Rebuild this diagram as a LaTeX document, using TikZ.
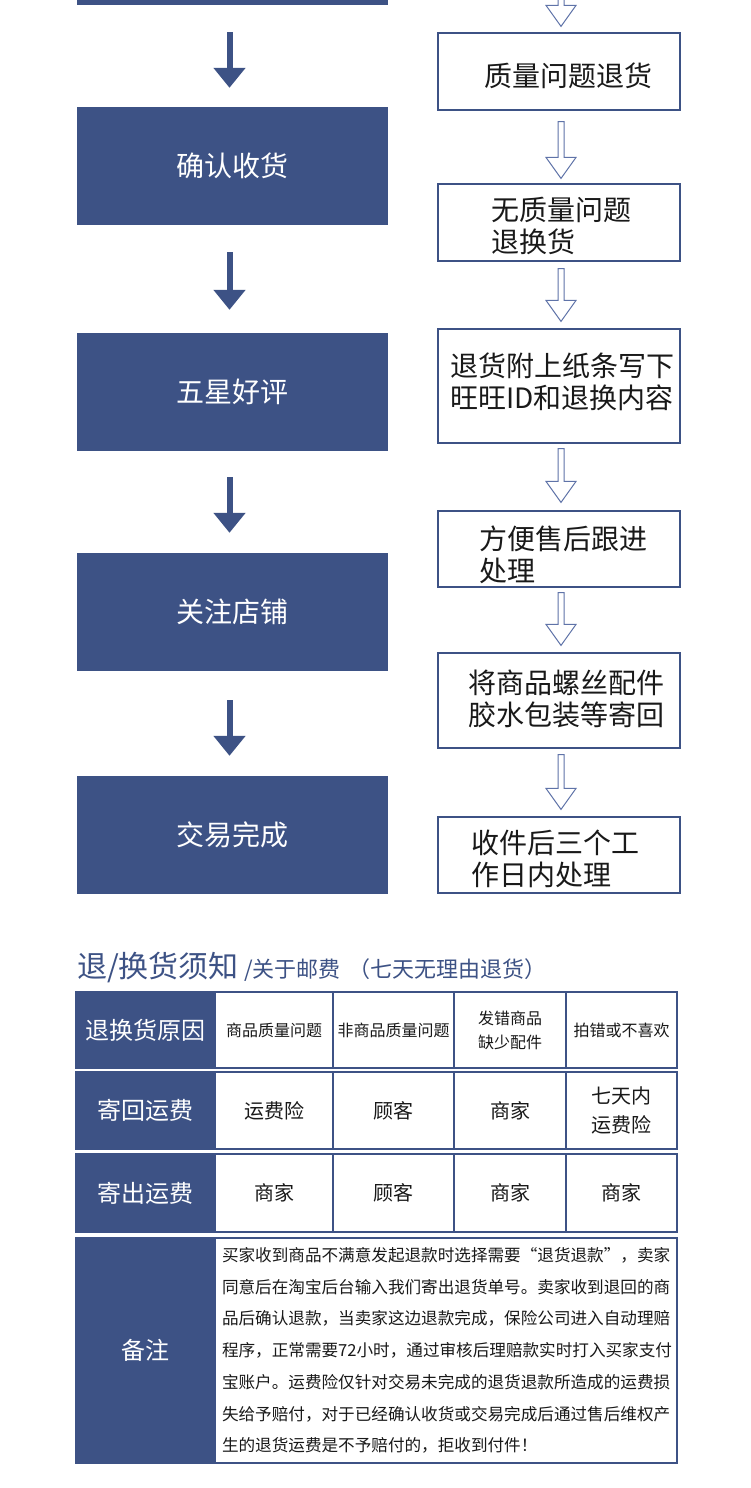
\documentclass[tikz,border=0pt]{standalone}
\usepackage{fontspec}
\setmainfont{Noto Sans CJK SC}
\usetikzlibrary{arrows.meta,calc}
\definecolor{navy}{RGB}{61,82,133}
\definecolor{arrowline}{RGB}{95,115,168}
\definecolor{ink}{RGB}{25,25,25}
\newcommand\hollowarr[2]{%
  \draw[harrow] let \p1=#1, \p2=#2 in
    (\x1-3pt,\y1) -- (\x1+3pt,\y1) -- (\x1+3pt,\y2+21pt) -- (\x1+15pt,\y2+21pt)
    -- (\x2,\y2) -- (\x1-15pt,\y2+21pt) -- (\x1-3pt,\y2+21pt) -- cycle;}
\begin{document}
\begin{tikzpicture}[x=1pt,y=-1pt,
  lbox/.style={fill=navy,text=white,minimum width=311pt,minimum height=118pt,inner sep=0pt,font=\fontsize{28pt}{32pt}\selectfont},
  rbox/.style={draw=navy,line width=1.2pt,fill=white,minimum width=242pt,inner sep=0pt},
  rtext/.style={anchor=west,align=left,inner sep=0pt,font=\fontsize{28pt}{32pt}\selectfont,text=ink},
  larrow/.style={draw=navy,line width=6pt,-{Triangle[width=31pt,length=20pt]}},
  harrow/.style={draw=arrowline,line width=1pt,fill=white},
  thead/.style={fill=navy,draw=navy,line width=1.2pt,text=white,inner sep=0pt,font=\fontsize{24pt}{28pt}\selectfont},
  tcell/.style={fill=white,draw=navy,line width=1.2pt,text=ink,inner sep=0pt,align=center},
  small/.style={font=\fontsize{16pt}{24pt}\selectfont},
  mid/.style={font=\fontsize{20pt}{29pt}\selectfont}
]
\useasboundingbox (0,0) rectangle (751,1488);
\clip (0,0) rectangle (751,1488);
\fill[white] (0,0) rectangle (751,1488);

% left column
\node[lbox] (l0) at (232.5,-54) {};
\node[lbox] (l1) at (232.5,166) {确认收货};
\node[lbox] (l2) at (232.5,392) {五星好评};
\node[lbox] (l3) at (232.5,612) {关注店铺};
\node[lbox] (l4) at (232.5,835) {交易完成};
\draw[larrow] ([xshift=-3pt,yshift=-27pt]l0.south) -- ([xshift=-3pt,yshift=19pt]l1.north);
\draw[larrow] ([xshift=-3pt,yshift=-27pt]l1.south) -- ([xshift=-3pt,yshift=23pt]l2.north);
\draw[larrow] ([xshift=-3pt,yshift=-26pt]l2.south) -- ([xshift=-3pt,yshift=20pt]l3.north);
\draw[larrow] ([xshift=-3pt,yshift=-29pt]l3.south) -- ([xshift=-3pt,yshift=20pt]l4.north);

% right column
\coordinate (r0) at (559,-20);
\node[rbox,minimum height=77pt] (r1) at (559,71.5) {};
\node[rbox,minimum height=77pt] (r2) at (559,222.5) {};
\node[rbox,minimum height=114pt] (r3) at (559,386) {};
\node[rbox,minimum height=76pt] (r4) at (559,549) {};
\node[rbox,minimum height=95pt] (r5) at (559,700.5) {};
\node[rbox,minimum height=76pt] (r6) at (559,855) {};
\node[rtext] (t1) at (484,76) {质量问题退货};
\node[rtext] (t2) at (491,225.5) {无质量问题\\退换货};
\node[rtext] (t3) at (450,382) {退货附上纸条写下\\旺旺ID和退换内容};
\node[rtext] (t4) at (479,554.5) {方便售后跟进\\处理};
\node[rtext] (t5) at (468,699) {将商品螺丝配件\\胶水包装等寄回};
\node[rtext] (t6) at (471,859) {收件后三个工\\作日内处理};
\hollowarr{([xshift=2pt]r0)}{([xshift=2pt,yshift=6pt]r1.north)}
\hollowarr{([xshift=2pt,yshift=-11pt]r1.south)}{([xshift=2pt,yshift=5pt]r2.north)}
\hollowarr{([xshift=2pt,yshift=-7pt]r2.south)}{([xshift=2pt,yshift=7pt]r3.north)}
\hollowarr{([xshift=2pt,yshift=-5pt]r3.south)}{([xshift=2pt,yshift=8pt]r4.north)}
\hollowarr{([xshift=2pt,yshift=-5pt]r4.south)}{([xshift=2pt,yshift=7pt]r5.north)}
\hollowarr{([xshift=2pt,yshift=-6pt]r5.south)}{([xshift=2pt,yshift=7pt]r6.north)}

% heading
\node[anchor=base west,inner sep=0pt,text=navy,font=\fontsize{30pt}{34pt}\selectfont] (hd) at (77,977) {退/换货须知};
\node[anchor=base west,inner sep=0pt,text=navy,font=\fontsize{22pt}{26pt}\selectfont] (hs) at ([xshift=5pt]hd.base east) {/关于邮费\hspace{8pt}（七天无理由退货）};

% table row 1
\node[thead,minimum width=139pt,minimum height=76pt] (h1) at (145.5,1030) {退换货原因};
\node[tcell,small,minimum width=118pt,minimum height=76pt] (a1) at (274,1030) {商品质量问题};
\node[tcell,small,minimum width=121pt,minimum height=76pt] (b1) at (393.5,1030) {非商品质量问题};
\node[tcell,small,minimum width=112pt,minimum height=76pt] (c1) at (510,1030) {发错商品\\缺少配件};
\node[tcell,small,minimum width=111pt,minimum height=76pt] (d1) at (621.5,1030) {拍错或不喜欢};
% row 2
\node[thead,minimum width=139pt,minimum height=77pt] (h2) at (145.5,1110.5) {寄回运费};
\node[tcell,mid,minimum width=118pt,minimum height=77pt] (a2) at (274,1110.5) {运费险};
\node[tcell,mid,minimum width=121pt,minimum height=77pt] (b2) at (393.5,1110.5) {顾客};
\node[tcell,mid,minimum width=112pt,minimum height=77pt] (c2) at (510,1110.5) {商家};
\node[tcell,mid,minimum width=111pt,minimum height=77pt] (d2) at (621.5,1110.5) {七天内\\运费险};
% row 3
\node[thead,minimum width=139pt,minimum height=78pt] (h3) at (145.5,1193) {寄出运费};
\node[tcell,mid,minimum width=118pt,minimum height=78pt] (a3) at (274,1193) {商家};
\node[tcell,mid,minimum width=121pt,minimum height=78pt] (b3) at (393.5,1193) {顾客};
\node[tcell,mid,minimum width=112pt,minimum height=78pt] (c3) at (510,1193) {商家};
\node[tcell,mid,minimum width=111pt,minimum height=78pt] (d3) at (621.5,1193) {商家};
% row 4
\node[thead,minimum width=139pt,minimum height=225pt] (h4) at (145.5,1350.5) {备注};
\node[tcell,align=left,text width=448pt,inner xsep=7pt,minimum height=225pt,font=\fontsize{16.6pt}{31.7pt}\selectfont] (n4) at (446,1350.5) {买家收到商品不满意发起退款时选择需要“退货退款”，卖家\\同意后在淘宝后台输入我们寄出退货单号。卖家收到退回的商\\品后确认退款，当卖家这边退款完成，保险公司进入自动理赔\\程序，正常需要72小时，通过审核后理赔款实时打入买家支付\\宝账户。运费险仅针对交易未完成的退货退款所造成的运费损\\失给予赔付，对于已经确认收货或交易完成后通过售后维权产\\生的退货运费是不予赔付的，拒收到付件！};
\end{tikzpicture}
\end{document}
